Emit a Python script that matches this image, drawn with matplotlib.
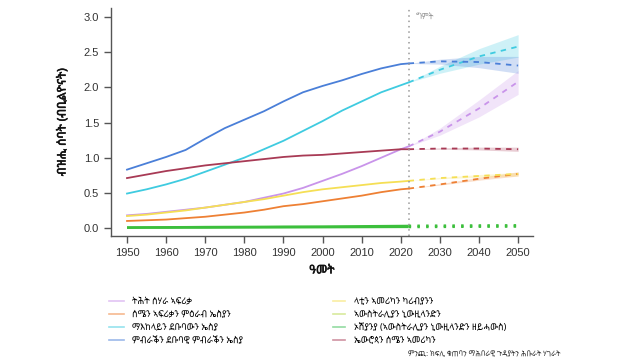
import matplotlib
matplotlib.use("Agg")
import matplotlib.pyplot as plt
import matplotlib.patheffects as pe
from matplotlib.lines import Line2D

# historical estimates (billions), projections 2022-2050 with bounds
YEARS = [1950, 1955, 1960, 1965, 1970, 1975, 1980, 1985, 1990, 1995,
         2000, 2005, 2010, 2015, 2020, 2022]
PROJ_YEARS = [2022, 2030, 2040, 2050]

ssa = [.18, .20, .23, .26, .29, .33, .37, .43, .49, .57, .67, .77, .88, 1.00, 1.12, 1.16]
nawa = [.10, .11, .12, .14, .16, .19, .22, .26, .31, .34, .38, .42, .46, .51, .55, .56]
csa = [.49, .55, .62, .70, .80, .90, 1.00, 1.12, 1.24, 1.38, 1.52, 1.67, 1.80, 1.93, 2.03, 2.07]
esea = [.83, .92, 1.01, 1.11, 1.27, 1.42, 1.54, 1.66, 1.80, 1.93, 2.02, 2.10, 2.19, 2.27, 2.33, 2.34]
lac = [.17, .19, .22, .25, .29, .33, .37, .41, .46, .51, .55, .58, .61, .64, .66, .67]
anz = [.010, .011, .012, .013, .015, .016, .017, .018, .020, .021, .022, .024, .026, .028, .030, .031]
oce = [.002, .003, .003, .004, .004, .005, .006, .007, .008, .009, .010, .011, .012, .013, .014, .014]
euna = [.71, .76, .81, .85, .89, .92, .95, .98, 1.01, 1.03, 1.04, 1.06, 1.08, 1.10, 1.12, 1.12]

ssa_p = [1.16, 1.37, 1.70, 2.08];  ssa_lo = [1.16, 1.32, 1.58, 1.90];  ssa_hi = [1.16, 1.42, 1.82, 2.24]
nawa_p = [.56, .62, .70, .77];     nawa_lo = [.56, .61, .68, .74];     nawa_hi = [.56, .63, .72, .80]
csa_p = [2.07, 2.25, 2.44, 2.58];  csa_lo = [2.07, 2.20, 2.33, 2.43];  csa_hi = [2.07, 2.30, 2.55, 2.75]
esea_p = [2.34, 2.37, 2.36, 2.31]; esea_lo = [2.34, 2.33, 2.28, 2.20]; esea_hi = [2.34, 2.40, 2.44, 2.44]
lac_p = [.67, .71, .74, .77];      lac_lo = [.67, .70, .72, .74];      lac_hi = [.67, .72, .76, .79]
anz_p = [.031, .033, .036, .038]
oce_p = [.014, .016, .019, .021]
euna_p = [1.12, 1.13, 1.13, 1.12]; euna_lo = [1.12, 1.12, 1.11, 1.09]; euna_hi = [1.12, 1.14, 1.15, 1.15]

LABELS = ["ትሕት ሰሃራ ኣፍሪቃ", "ሰሜን ኣፍሪቃን ምዕራብ ኤስያን", "ማእከላይን ደቡባውን ኤስያ",
          "ምብራቕን ደቡባዊ ምብራቕን ኤስያ", "ላቲን ኣመሪካን ካሪብያንን", "ኣውስትራሊያን ኒውዚላንድን",
          "ኦሽያንያ (ኣውስትራሊያን ኒውዚላንድን ዘይሓውስ)", "ኤውሮጳን ሰሜን ኣመሪካን"]
COLORS = ["#c994ea", "#ee8034", "#3fcbe0", "#4a7fd8", "#f5df55", "#b8d94c", "#3bbf55", "#a83a55"]

plt.rcParams["font.family"] = ["Liberation Sans", "DejaVu Sans"]
ETH = ["Noto Sans Ethiopic", "Liberation Sans", "DejaVu Sans"]
BOLD = [pe.withStroke(linewidth=0.4, foreground="#111111")]

fig = plt.figure(figsize=(6.4, 3.6), dpi=100)
ax = fig.add_axes([0.1734, 0.3444, 0.6594, 0.6333])

series = [
    (ssa, ssa_p, ssa_lo, ssa_hi),
    (nawa, nawa_p, nawa_lo, nawa_hi),
    (csa, csa_p, csa_lo, csa_hi),
    (esea, esea_p, esea_lo, esea_hi),
    (lac, lac_p, lac_lo, lac_hi),
    (anz, anz_p, None, None),
    (oce, oce_p, None, None),
    (euna, euna_p, euna_lo, euna_hi),
]
for (hist, proj, lo, hi), c in zip(series, COLORS):
    if lo is not None:
        ax.fill_between(PROJ_YEARS, lo, hi, color=c, alpha=0.25, lw=0)
    if hist is anz or hist is oce:
        ax.plot(YEARS, hist, color="#3cbf3c", lw=1.6, solid_capstyle="butt")
        ax.plot(PROJ_YEARS, proj, color="#3cbf3c", lw=1.8, ls=(0, (1, 2.5)))
    else:
        ax.plot(YEARS, hist, color=c, lw=1.3)
        ax.plot(PROJ_YEARS, proj, color=c, lw=1.3, ls=(0, (3, 3)))

ax.axvline(2022, color="#999999", lw=1.1, ls=(0, (1, 2.5)))
ax.text(2023.8, 2.98, "ግምት", color="#999999", fontsize=6, family=ETH)

ax.set_xlim(1945.9, 2053.8)
ax.set_ylim(-0.114, 3.128)
ax.set_xticks(range(1950, 2051, 10))
ax.set_yticks([0, 0.5, 1.0, 1.5, 2.0, 2.5, 3.0])
ax.set_yticklabels(["0.0", "0.5", "1.0", "1.5", "2.0", "2.5", "3.0"])
for s in ["top", "right"]:
    ax.spines[s].set_visible(False)
for s in ["left", "bottom"]:
    ax.spines[s].set_color("#555555")
    ax.spines[s].set_linewidth(1.0)
ax.tick_params(colors="#555555", labelcolor="#333333", labelsize=8, length=5, width=1.0, direction="out")
ax.set_xlabel("ዓመት", fontsize=8.5, labelpad=4, family=ETH, color="#111111", path_effects=BOLD)
ax.set_ylabel("ብዝሒ ሰባት (ብቢልዮናት)", fontsize=8.5, labelpad=11, family=ETH, color="#111111",
              path_effects=BOLD)

handles = [Line2D([], [], color=c, lw=1.2, alpha=0.55) for c in COLORS]
leg_kw = dict(loc="upper left", frameon=False, handletextpad=0.9, labelspacing=0.42,
              borderaxespad=0, borderpad=0, prop={"family": ETH, "size": 6.5})
fig.legend(handles[:4], LABELS[:4], bbox_to_anchor=(0.170, 0.174), handlelength=1.7, **leg_kw)
fig.legend(handles[4:], LABELS[4:], bbox_to_anchor=(0.520, 0.174), handlelength=1.4, **leg_kw)
fig.text(0.875, 0.006, "ምንጪ: ክፍሊ ቁጠባን ማሕበራዊ ጉዳያትን ሕቡራት ሃገራት", fontsize=5.3,
         color="#333333", ha="right", va="bottom", family=ETH)

fig.savefig("out.png", dpi=100)
